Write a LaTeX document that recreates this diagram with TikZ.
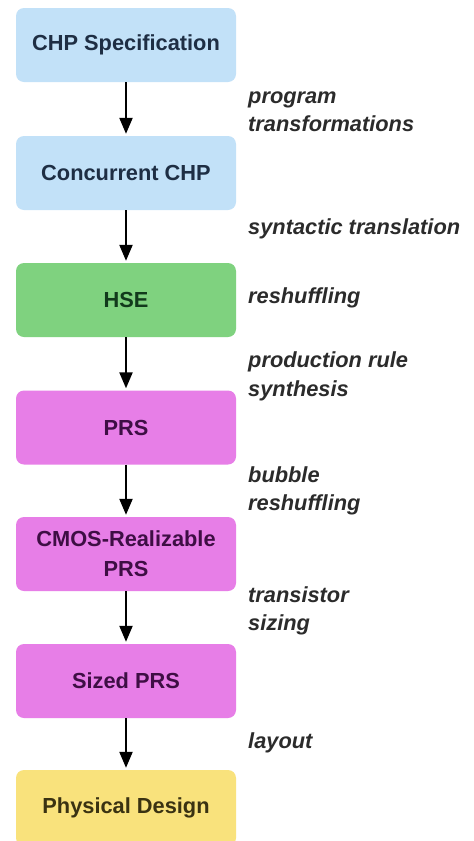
\documentclass[tikz,border=0pt]{standalone}
\usepackage{fontspec}
\setmainfont{Liberation Sans}
\usetikzlibrary{arrows.meta}
\definecolor{cblue}{HTML}{C2E1F8}
\definecolor{cgreen}{HTML}{7FD27F}
\definecolor{cpink}{HTML}{E77EE7}
\definecolor{cyellow}{HTML}{F9E27C}
\definecolor{tblue}{HTML}{1E2E44}
\definecolor{tgreen}{HTML}{123A1C}
\definecolor{tpink}{HTML}{3E0E44}
\definecolor{tyellow}{HTML}{3A3212}
\definecolor{tlabel}{HTML}{2B2B2B}
\tikzset{
  box/.style={rounded corners=8pt, minimum width=220pt, minimum height=74pt,
    inner sep=0pt, align=center, font=\fontsize{21.8}{30}\selectfont\bfseries},
  flow/.style={line width=2.2pt, shorten >=2pt, -{Triangle[length=16pt,width=13pt]}},
  lbl/.style={anchor=west, align=left, inner sep=0pt, text=tlabel,
    font=\fontsize{21.8}{28.5}\selectfont\bfseries\itshape}
}
\begin{document}
\begin{tikzpicture}[x=1pt,y=-1pt]
\useasboundingbox (0,0) rectangle (474,841);
\clip (0,0) rectangle (474,841);
\fill[white] (0,0) rectangle (474,841);
\node[box, fill=cblue, text=tblue] (b1) at (126,45) {CHP Specification};
\node[box, fill=cblue, text=tblue] (b2) at (126,173) {Concurrent CHP};
\node[box, fill=cgreen, text=tgreen] (b3) at (126,300) {HSE};
\node[box, fill=cpink, text=tpink] (b4) at (126,427.5) {PRS};
\node[box, fill=cpink, text=tpink] (b5) at (126,554) {CMOS-Realizable\\PRS};
\node[box, fill=cpink, text=tpink] (b6) at (126,681) {Sized PRS};
\node[box, fill=cyellow, text=tyellow, minimum height=76pt] (b7) at (126,808) {Physical Design};
\draw[flow] (b1.south) -- (b2.north);
\draw[flow] (b2.south) -- (b3.north);
\draw[flow] (b3.south) -- (b4.north);
\draw[flow] (b4.south) -- (b5.north);
\draw[flow] (b5.south) -- (b6.north);
\draw[flow] (b6.south) -- (b7.north);
\node[lbl] (l1) at (248,111.5) {program\\transformations};
\node[lbl] (l2) at (248,229) {syntactic translation};
\node[lbl] (l3) at (248,298) {reshuffling};
\node[lbl] (l4) at (248,376.5) {production rule\\synthesis};
\node[lbl] (l5) at (248,491) {bubble\\reshuffling};
\node[lbl] (l6) at (248,611) {transistor\\sizing};
\node[lbl] (l7) at (248,743) {layout};
\end{tikzpicture}
\end{document}
